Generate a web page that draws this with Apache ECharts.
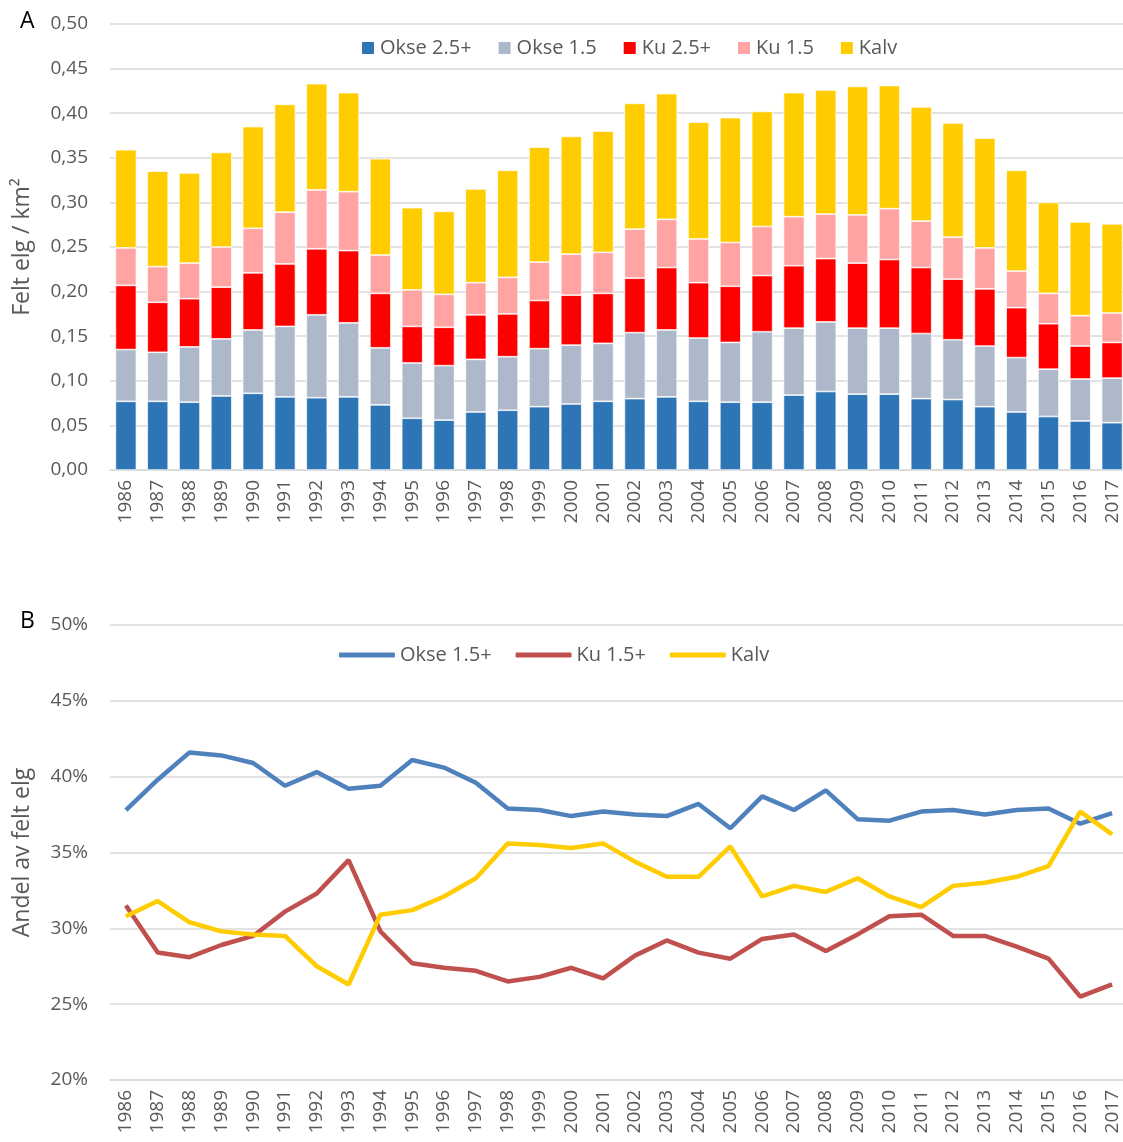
<!DOCTYPE html>
<html>
<head>
<meta charset="utf-8">
<style>
    html, body { margin: 0; padding: 0; background: #fff; }
    #main { width: 1123px; height: 1142px; }
</style>
<script src="https://cdn.jsdelivr.net/npm/echarts@6/dist/echarts.min.js"></script>
</head>
<body>
<div id="main"></div>
<script>
    // år
    var years = ['1986', '1987', '1988', '1989', '1990', '1991', '1992', '1993', '1994', '1995', '1996',
        '1997', '1998', '1999', '2000', '2001', '2002', '2003', '2004', '2005', '2006', '2007',
        '2008', '2009', '2010', '2011', '2012', '2013', '2014', '2015', '2016', '2017'];

    // A: felt elg per km2
    var okse25 = [0.077, 0.077, 0.076, 0.083, 0.086, 0.082, 0.081, 0.082, 0.073, 0.058, 0.056,
        0.065, 0.067, 0.071, 0.074, 0.077, 0.080, 0.082, 0.077, 0.076, 0.076, 0.084,
        0.088, 0.085, 0.085, 0.080, 0.079, 0.071, 0.065, 0.060, 0.055, 0.053];
    var okse15 = [0.058, 0.055, 0.062, 0.064, 0.071, 0.079, 0.093, 0.083, 0.064, 0.062, 0.061,
        0.059, 0.060, 0.065, 0.066, 0.065, 0.074, 0.075, 0.071, 0.067, 0.079, 0.075,
        0.078, 0.074, 0.074, 0.073, 0.067, 0.068, 0.061, 0.053, 0.047, 0.050];
    var ku25 = [0.072, 0.056, 0.054, 0.058, 0.064, 0.070, 0.074, 0.081, 0.061, 0.041, 0.043,
        0.050, 0.048, 0.054, 0.056, 0.056, 0.061, 0.070, 0.062, 0.063, 0.063, 0.070,
        0.071, 0.073, 0.077, 0.074, 0.068, 0.064, 0.056, 0.051, 0.037, 0.040];
    var ku15 = [0.042, 0.040, 0.040, 0.045, 0.050, 0.058, 0.066, 0.066, 0.043, 0.041, 0.037,
        0.036, 0.041, 0.043, 0.046, 0.046, 0.055, 0.054, 0.049, 0.049, 0.055, 0.055,
        0.050, 0.054, 0.057, 0.052, 0.047, 0.046, 0.041, 0.034, 0.034, 0.033];
    var kalvA = [0.110, 0.107, 0.101, 0.106, 0.114, 0.121, 0.119, 0.111, 0.108, 0.092, 0.093,
        0.105, 0.120, 0.129, 0.132, 0.136, 0.141, 0.141, 0.131, 0.140, 0.129, 0.139,
        0.139, 0.144, 0.138, 0.128, 0.128, 0.123, 0.113, 0.102, 0.105, 0.100];

    // B: andel av felt elg (%)
    var okseAndel = [37.8, 39.8, 41.6, 41.4, 40.9, 39.4, 40.3, 39.2, 39.4, 41.1, 40.6,
        39.6, 37.9, 37.8, 37.4, 37.7, 37.5, 37.4, 38.2, 36.6, 38.7, 37.8,
        39.1, 37.2, 37.1, 37.7, 37.8, 37.5, 37.8, 37.9, 36.9, 37.6];
    var kuAndel = [31.5, 28.4, 28.1, 28.9, 29.5, 31.1, 32.3, 34.5, 29.8, 27.7, 27.4,
        27.2, 26.5, 26.8, 27.4, 26.7, 28.2, 29.2, 28.4, 28.0, 29.3, 29.6,
        28.5, 29.6, 30.8, 30.9, 29.5, 29.5, 28.8, 28.0, 25.5, 26.3];
    var kalvAndel = [30.8, 31.8, 30.4, 29.8, 29.6, 29.5, 27.5, 26.3, 30.9, 31.2, 32.1,
        33.3, 35.6, 35.5, 35.3, 35.6, 34.4, 33.4, 33.4, 35.4, 32.1, 32.8,
        32.4, 33.3, 32.1, 31.4, 32.8, 33.0, 33.4, 34.1, 37.7, 36.2];

    var fontName = 'Open Sans';
    var textGrey = '#595959';
    var gridGrey = '#d9d9d9';

    function barSeries(name, data, color) {
        return {
            name: name,
            type: 'bar',
            stack: 'felt',
            xAxisIndex: 0,
            yAxisIndex: 0,
            barCategoryGap: '34%',
            itemStyle: {color: color, borderColor: '#ffffff', borderWidth: 0.7},
            data: data
        };
    }

    function lineSeries(name, data, color) {
        return {
            name: name,
            type: 'line',
            xAxisIndex: 1,
            yAxisIndex: 1,
            symbol: 'none',
            lineStyle: {color: color, width: 4.5},
            itemStyle: {color: color},
            data: data
        };
    }

    var catAxis = function (gridIndex) {
        return {
            type: 'category',
            gridIndex: gridIndex,
            data: years,
            boundaryGap: true,
            axisTick: {show: false},
            axisLine: {lineStyle: {color: gridGrey, width: 1.5}},
            axisLabel: {
                rotate: 90,
                interval: 0,
                margin: 10,
                color: textGrey,
                fontFamily: fontName,
                fontSize: 19
            }
        };
    };

    var myChart = echarts.init(document.getElementById('main'), null, {renderer: 'canvas'});
    var opt = {
        backgroundColor: '#ffffff',
        animation: false,
        textStyle: {fontFamily: fontName},
        grid: [
            {left: 110, width: 1018, top: 24, height: 446, outerBoundsMode: 'none'},
            {left: 110, width: 1018, top: 625, height: 455, outerBoundsMode: 'none'}
        ],
        legend: [{
            left: 355,
            top: 33,
            itemWidth: 14,
            itemHeight: 14,
            itemGap: 25,
            icon: 'rect',
            textStyle: {color: textGrey, fontSize: 20, fontFamily: fontName},
            data: ['Okse 2.5+', 'Okse 1.5', 'Ku 2.5+', 'Ku 1.5', 'Kalv']
        }, {
            left: 334,
            top: 640,
            itemWidth: 56,
            itemHeight: 5,
            itemGap: 24,
            icon: 'roundRect',
            textStyle: {color: textGrey, fontSize: 20, fontFamily: fontName},
            data: ['Okse 1.5+', 'Ku 1.5+', 'Kalv ']
        }],
        graphic: [
            {type: 'text', left: 20, top: 10, style: {text: 'A', fontSize: 23, fill: '#000', fontFamily: fontName}},
            {type: 'text', left: 20, top: 610, style: {text: 'B', fontSize: 23, fill: '#000', fontFamily: fontName}}
        ],
        xAxis: [catAxis(0), catAxis(1)],
        yAxis: [{
            type: 'value',
            gridIndex: 0,
            min: 0,
            max: 0.5,
            interval: 0.05,
            name: 'Felt elg / km²',
            nameLocation: 'middle',
            nameGap: 76,
            nameTextStyle: {color: textGrey, fontSize: 23, fontFamily: fontName},
            axisLine: {show: false},
            axisTick: {show: false},
            splitLine: {lineStyle: {color: gridGrey, width: 1.5}},
            axisLabel: {
                margin: 22,
                color: textGrey,
                fontFamily: fontName,
                fontSize: 19,
                formatter: function (v) {
                    return v.toFixed(2).replace('.', ',');
                }
            }
        }, {
            type: 'value',
            gridIndex: 1,
            min: 20,
            max: 50,
            interval: 5,
            name: 'Andel av felt elg',
            nameLocation: 'middle',
            nameGap: 76,
            nameTextStyle: {color: textGrey, fontSize: 23, fontFamily: fontName},
            axisLine: {show: false},
            axisTick: {show: false},
            splitLine: {lineStyle: {color: gridGrey, width: 1.5}},
            axisLabel: {
                margin: 22,
                color: textGrey,
                fontFamily: fontName,
                fontSize: 19,
                formatter: '{value}%'
            }
        }],
        series: [
            barSeries('Okse 2.5+', okse25, '#2e75b6'),
            barSeries('Okse 1.5', okse15, '#adb9ca'),
            barSeries('Ku 2.5+', ku25, '#ff0000'),
            barSeries('Ku 1.5', ku15, '#ffa3a3'),
            barSeries('Kalv', kalvA, '#ffcc00'),
            lineSeries('Okse 1.5+', okseAndel, '#4f81bd'),
            lineSeries('Ku 1.5+', kuAndel, '#c0504d'),
            lineSeries('Kalv ', kalvAndel, '#ffcc00')
        ]
    };
    myChart.setOption(opt);
</script>
</body>
</html>
